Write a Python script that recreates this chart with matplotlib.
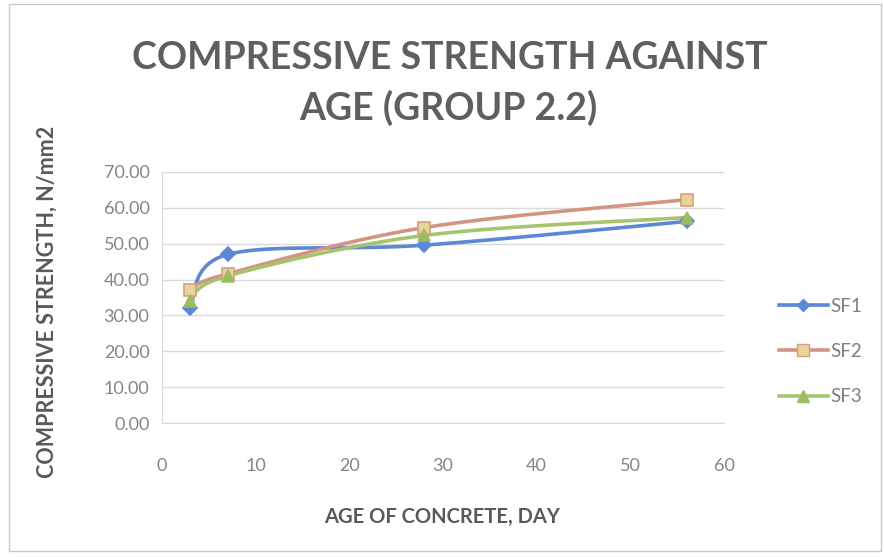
import numpy as np
import matplotlib
matplotlib.use("Agg")
import matplotlib.pyplot as plt
from matplotlib.lines import Line2D
from matplotlib.patches import Rectangle

# Concrete age (days) and compressive strength (N/mm2)
age_days = [3, 7, 28, 56]
sf1 = [32.0, 47.0, 49.6, 56.2]
sf2 = [37.0, 41.6, 54.5, 62.3]
sf3 = [34.0, 41.0, 52.3, 57.3]
series_names = ["SF1", "SF2", "SF3"]

x_ticks = [0, 10, 20, 30, 40, 50, 60]
y_ticks = [0, 10, 20, 30, 40, 50, 60, 70]

plt.rcParams["font.family"] = ["Lato", "DejaVu Sans"]

W, H = 884, 557
fig = plt.figure(figsize=(W / 100, H / 100), dpi=100)
fig.patch.set_facecolor("white")

# outer chart frame
fig.patches.append(Rectangle((9 / W, 6 / H), (W - 12) / W, (H - 10) / H,
                             transform=fig.transFigure, fill=False,
                             edgecolor="#c8c8c8", linewidth=1.0))

ax_l, ax_r, ax_t, ax_b = 162, 724, 172, 423
ax = fig.add_axes([ax_l / W, 1 - ax_b / H, (ax_r - ax_l) / W, (ax_b - ax_t) / H])
ax.set_xlim(0, 60)
ax.set_ylim(0, 70)
ax.set_xticks(x_ticks)
ax.set_yticks(y_ticks)
ax.set_yticklabels([f"{v:.2f}" for v in y_ticks])
ax.tick_params(axis="both", length=0, colors="#858585", labelsize=13)
ax.tick_params(axis="y", pad=9)
ax.tick_params(axis="x", pad=25)
ax.grid(axis="y", color="#d9d9d9", linewidth=1.0)
ax.set_axisbelow(True)
for side in ["top", "right"]:
    ax.spines[side].set_visible(False)
ax.spines["left"].set_color("#d9d9d9")
ax.spines["bottom"].set_color("#d9d9d9")

ax_w_px = ax_r - ax_l
ax_h_px = ax_b - ax_t


def smooth_curve(xs, ys, n=40):
    """Cardinal-spline Bezier smoothing computed in screen-proportional units."""
    sx = ax_w_px / 60.0
    sy = ax_h_px / 70.0
    p = np.column_stack([np.asarray(xs) * sx, np.asarray(ys) * sy])
    pts = np.vstack([p[0], p, p[-1]])
    out = []
    for i in range(1, len(pts) - 2):
        p0, p1, p2, p3 = pts[i - 1], pts[i], pts[i + 1], pts[i + 2]
        c1 = p1 + (p2 - p0) / 6.0
        c2 = p2 - (p3 - p1) / 6.0
        t = np.linspace(0, 1, n)[:, None]
        seg = ((1 - t) ** 3) * p1 + 3 * ((1 - t) ** 2) * t * c1 + \
              3 * (1 - t) * t ** 2 * c2 + t ** 3 * p2
        out.append(seg if i == 1 else seg[1:])
    out = np.vstack(out)
    return out[:, 0] / sx, out[:, 1] / sy


styles = [
    dict(color="#5b87d4", marker="D", mfc="#5b87d4", mec="#5b87d4", ms=7),
    dict(color="#d39484", marker="s", mfc="#e8d39c", mec="#d6a07e", ms=9),
    dict(color="#a6c46e", marker="^", mfc="#9dbb62", mec="#9dbb62", ms=9),
]
data = [sf1, sf2, sf3]
for vals, st in zip(data, styles):
    cx, cy = smooth_curve(age_days, vals)
    ax.plot(cx, cy, color=st["color"], linewidth=2.6, solid_capstyle="round", zorder=3)
for vals, st in zip(data, styles):
    ax.plot(age_days, vals, linestyle="none", marker=st["marker"], ms=st["ms"],
            mfc=st["mfc"], mec=st["mec"], mew=1.2, zorder=4)

handles = [Line2D([0], [0], color=st["color"], linewidth=2.6, marker=st["marker"],
                  ms=st["ms"] - 1, mfc=st["mfc"], mec=st["mec"]) for st in styles]
fig.legend(handles, series_names, loc="upper left",
           bbox_to_anchor=(762 / W, 1 - 281 / H), frameon=False,
           handlelength=2.6, handletextpad=0.15, labelspacing=1.5,
           prop={"size": 13.5}, labelcolor="#7f7f7f")

fig.text(450 / W, 1 - 58 / H, "COMPRESSIVE STRENGTH AGAINST", ha="center", va="center",
         fontsize=27, fontweight="bold", color="#5f5f5f")
fig.text(448 / W, 1 - 108 / H, "AGE (GROUP 2.2)", ha="center", va="center",
         fontsize=27, fontweight="bold", color="#5f5f5f")

fig.text(442 / W, 1 - 517 / H, "AGE OF CONCRETE, DAY", ha="center", va="center",
         fontsize=14.5, fontweight="bold", color="#595959")
fig.text(47 / W, 1 - 302 / H, "COMPRESSIVE STRENGTH, N/mm2", ha="center", va="center",
         rotation=90, fontsize=15.5, fontweight="bold", color="#595959")

fig.savefig("out.png", dpi=100, facecolor="white")
